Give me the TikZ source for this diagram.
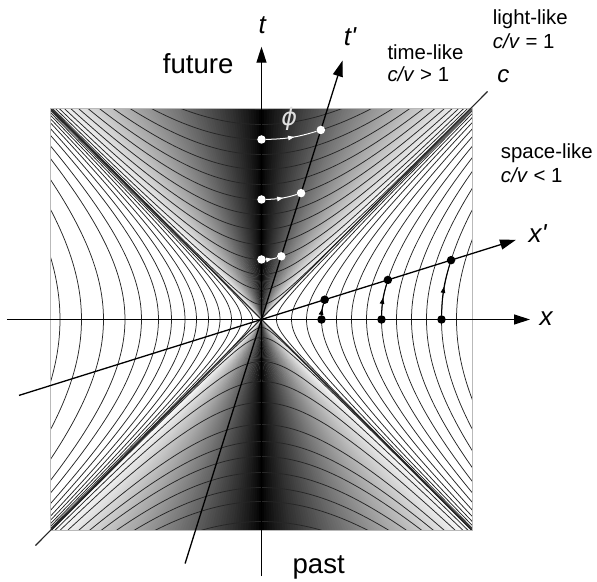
\documentclass[tikz,border=0pt]{standalone}
\usepackage{fontspec}
\setmainfont{Liberation Sans}
\newfontfamily\dejavu{DejaVu Sans}
\usetikzlibrary{arrows.meta,decorations.markings}
\begin{document}
\begin{tikzpicture}[x=1pt,y=1pt,
  axis/.style={line width=1.3pt, -{Triangle[length=16pt,width=10pt]}},
  hyp/.style={line width=0.75pt, black!85},
  wdot/.style={circle, fill=white, inner sep=0pt, minimum size=8.5pt},
  bdot/.style={circle, fill=black, inner sep=0pt, minimum size=8.5pt},
  lbl/.style={font=\fontsize{20.4}{23}\selectfont, anchor=base west, inner sep=0pt},
  big/.style={font=\fontsize{27.6}{30}\selectfont, inner sep=0pt},
  axlbl/.style={font=\fontsize{26}{28}\selectfont\itshape, inner sep=0pt},
  midarrow/.style={postaction={decorate}, decoration={markings, mark=at position 0.55 with {\arrow{Triangle[length=6pt,width=4.5pt]}}}},
]
\useasboundingbox (-261.5,-261.5) rectangle (335.5,319.5);
\def\H{211}
\def\N{80}
% shading of the time-like regions
\foreach \i in {0,...,79} {
  \pgfmathsetmacro\ua{\i/\N*\H}
  \pgfmathsetmacro\ub{min((\i+1.6)/\N,1)*\H}
  \pgfmathsetmacro\p{100*(1-((\i+0.5)/\N)^0.85)}
  \fill[black!\p] (0,0) -- (\ua,\H) -- (\ub,\H) -- cycle;
  \fill[black!\p] (0,0) -- (-\ua,\H) -- (-\ub,\H) -- cycle;
  \fill[black!\p] (0,0) -- (\ua,-\H) -- (\ub,-\H) -- cycle;
  \fill[black!\p] (0,0) -- (-\ua,-\H) -- (-\ub,-\H) -- cycle;
}
% hyperbolas
\begin{scope}
\clip (-\H,-\H) rectangle (\H,\H);
% future (time-like, t>0)
\foreach \a in {15,30,...,210} {
  \pgfmathsetmacro\r{\H/\a}
  \pgfmathsetmacro\S{ln(\r+sqrt(\r*\r-1))+0.02}
  \draw[hyp] plot[domain=-\S:\S, samples=70, smooth] ({\a*sinh(\x)},{\a*cosh(\x)});
}
% past (time-like, t<0)
\foreach \a in {8,18,42,62,83,105,122,137,153,168,182,202} {
  \pgfmathsetmacro\r{\H/\a}
  \pgfmathsetmacro\S{ln(\r+sqrt(\r*\r-1))+0.02}
  \draw[hyp] plot[domain=-\S:\S, samples=70, smooth] ({\a*sinh(\x)},{-\a*cosh(\x)});
}
% right (space-like, x>0)
\foreach \a in {15,30,...,195} {
  \pgfmathsetmacro\r{\H/\a}
  \pgfmathsetmacro\S{ln(\r+sqrt(\r*\r-1))+0.02}
  \draw[hyp] plot[domain=-\S:\S, samples=70, smooth] ({\a*cosh(\x)},{\a*sinh(\x)});
}
% left (space-like, x<0)
\foreach \a in {9,20,30,41.5,53,65,76.5,90,103,120,136.5,158,180,201.5} {
  \pgfmathsetmacro\r{\H/\a}
  \pgfmathsetmacro\S{ln(\r+sqrt(\r*\r-1))+0.02}
  \draw[hyp] plot[domain=-\S:\S, samples=70, smooth] ({-\a*cosh(\x)},{\a*sinh(\x)});
}
\coordinate (ad1) at (-\H,\H);
\coordinate (ad2) at (\H,-\H);
\draw[hyp, line width=1.1pt] (ad1) -- (ad2);
\end{scope}
\draw[gray!55, line width=0.8pt] (-\H,-\H) rectangle (\H,\H);
% light line
\coordinate (c1) at (-226,-226);
\coordinate (c2) at (226,228);
\draw[hyp, line width=1.1pt] (c1) -- (c2);
% axes
\coordinate (xL) at (-254.5,0);
\coordinate (xR) at (268.5,0);
\coordinate (tB) at (0,-256.5);
\coordinate (tT) at (0,272.8);
\coordinate (tpB) at (-76.4,-244);
\coordinate (tpT) at (81.1,259);
\coordinate (xpL) at (-242.5,-75.9);
\coordinate (xpR) at (254.5,79.7);
\draw[axis] (xL) -- (xR);
\draw[axis] (tB) -- (tT);
\draw[axis] (tpB) -- (tpT);
\draw[axis] (xpL) -- (xpR);
% dots
\node[wdot] (T1) at (0,60) {};
\node[wdot] (T2) at (0,120) {};
\node[wdot] (T3) at (0,180) {};
\node[wdot] (P1) at (19.78,63.18) {};
\node[wdot] (P2) at (39.55,126.36) {};
\node[wdot] (P3) at (59.33,189.54) {};
\node[bdot] (X1) at (60,0) {};
\node[bdot] (X2) at (120,0) {};
\node[bdot] (X3) at (180,0) {};
\node[bdot] (Q1) at (63.18,19.78) {};
\node[bdot] (Q2) at (126.36,39.55) {};
\node[bdot] (Q3) at (189.54,59.33) {};
\foreach \s/\e in {T1/P1,T2/P2,T3/P3}
  \draw[white, line width=1pt, midarrow] (\s) to[bend right=8] (\e);
\foreach \s/\e in {X1/Q1,X2/Q2,X3/Q3}
  \draw[black, line width=1pt, midarrow] (\s) to[bend left=8] (\e);
% labels
\node[text=gray!25, font=\fontsize{24}{26}\selectfont\dejavu\itshape, inner sep=0pt] (phi) at (27.8,200.2) {ϕ};
\node[axlbl] (lt) at (0.8,294.5) {t};
\node[axlbl] (ltp) at (88.5,282.8) {t\textquotesingle};
\node[axlbl] (lx) at (284.5,1.2) {x};
\node[axlbl] (lxp) at (276,85.5) {x\textquotesingle};
\node[axlbl, font=\fontsize{24}{26}\selectfont\itshape] (lc) at (241.8,243.3) {c};
\node[big, anchor=base west] (fut) at (-98.8,245.5) {future};
\node[big, anchor=base] (past) at (57.2,-253.8) {past};
\node[lbl] (tl1) at (125.8,260.2) {time-like};
\node[lbl] (tl2) at (125.8,237.8) {\textit{c/v} > 1};
\node[lbl] (ll1) at (231.2,294.5) {light-like};
\node[lbl] (ll2) at (231.2,271.2) {\textit{c/v} = 1};
\node[lbl] (sl1) at (239.2,160.5) {space-like};
\node[lbl] (sl2) at (239.2,136.5) {\textit{c/v} < 1};
\end{tikzpicture}
\end{document}
